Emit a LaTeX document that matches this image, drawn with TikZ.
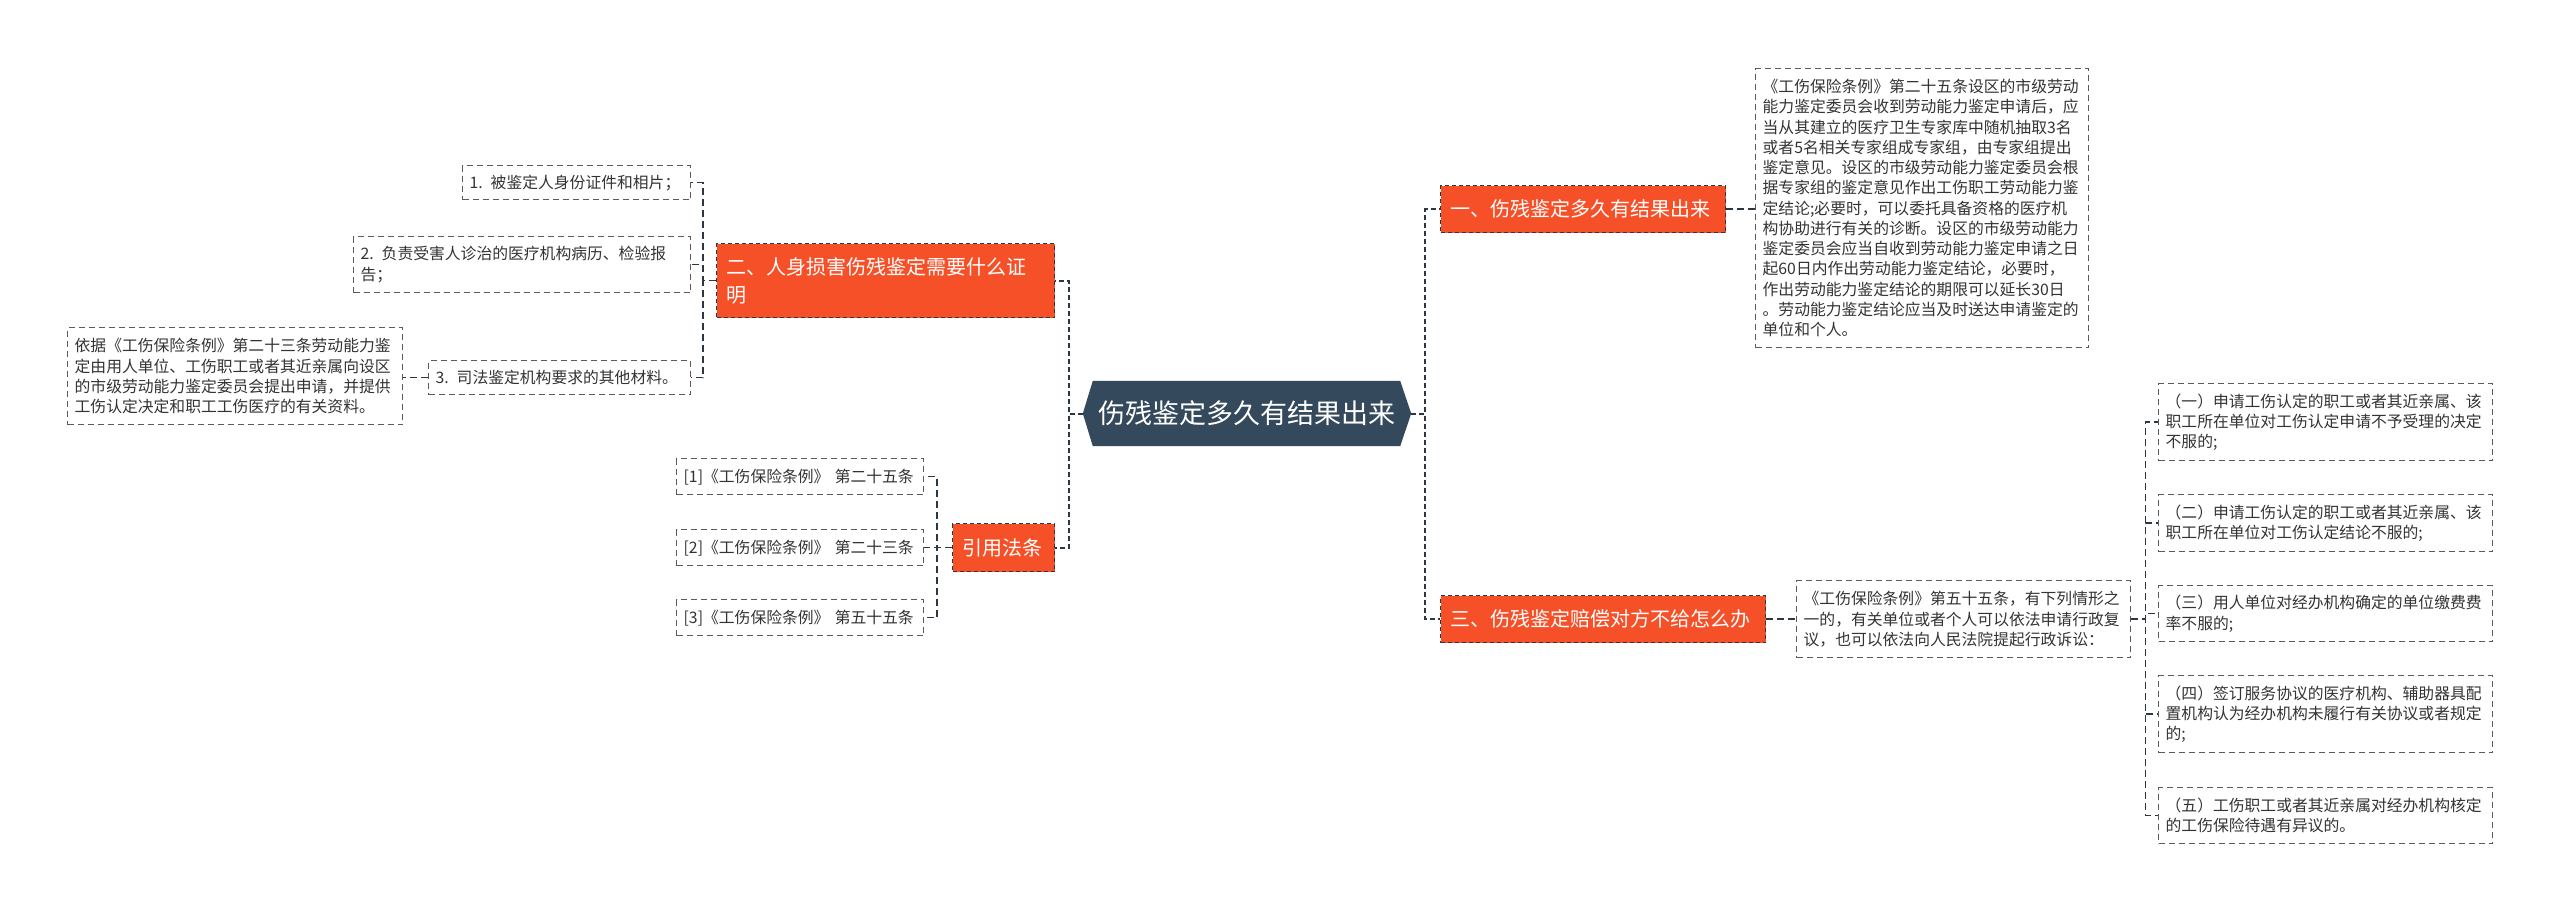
\documentclass[tikz,border=0pt]{standalone}
\usepackage{fontspec}
\setmainfont{Noto Sans CJK SC}
\usetikzlibrary{backgrounds}
\definecolor{orangeN}{RGB}{246,80,40}
\definecolor{darkN}{RGB}{53,73,92}
\definecolor{lineC}{RGB}{45,55,65}
\definecolor{boxC}{RGB}{90,90,90}
\definecolor{txtC}{RGB}{51,51,51}
\begin{document}
\begin{tikzpicture}[x=1pt,y=-1pt,
  detail/.style={draw=boxC, line width=1.3pt, dash pattern=on 6pt off 4pt, text=txtC,
    font=\fontsize{15.8}{20.25}\selectfont, align=left, inner xsep=7pt, inner ysep=0pt, anchor=north west},
  topic/.style={fill=orangeN, draw=lineC, line width=1.3pt, dash pattern=on 4pt off 3pt, text=white,
    font=\fontsize{20}{28}\selectfont, align=left, inner xsep=10pt, inner ysep=0pt, anchor=north west},
  mainnode/.style={text=white, font=\fontsize{27}{32}\selectfont, inner sep=0pt,
    minimum width=328pt, minimum height=65pt},
  link/.style={draw=lineC, line width=2pt, dash pattern=on 5pt off 3pt},
  sublink/.style={draw=lineC, line width=1.5pt, dash pattern=on 7pt off 4pt}]
\useasboundingbox (0,0) rectangle (2560,911);
\begin{scope}[on background layer]
\fill[white] (0,0) rectangle (2560,911);
\end{scope}

% center
\node[mainnode] (ctr) at (1247,413.5) {伤残鉴定多久有结果出来};
\begin{scope}[on background layer]
\fill[darkN] (ctr.west) -- ([xshift=10pt]ctr.north west) -- ([xshift=-11pt]ctr.north east) -- (ctr.east)
  -- ([xshift=-11pt]ctr.south east) -- ([xshift=10pt]ctr.south west) -- cycle;
\end{scope}

% topics
\node[topic, text width=265pt, minimum height=47pt] (N1) at (1440,185) {一、伤残鉴定多久有结果出来};
\node[topic, text width=305pt, minimum height=47pt] (N3) at (1440,595) {三、伤残鉴定赔偿对方不给怎么办};
\node[topic, text width=318pt, minimum height=74pt] (N2) at (716,243) {二、人身损害伤残鉴定需要什么证\\明};
\node[topic, text width=82pt, minimum height=48pt] (N4) at (952,523) {引用法条};

% right details
\node[detail, text width=319pt, minimum height=279pt] (R1) at (1755,68) {《工伤保险条例》第二十五条设区的市级劳动\\能力鉴定委员会收到劳动能力鉴定申请后，应\\当从其建立的医疗卫生专家库中随机抽取3名\\或者5名相关专家组成专家组，由专家组提出\\鉴定意见。设区的市级劳动能力鉴定委员会根\\据专家组的鉴定意见作出工伤职工劳动能力鉴\\定结论;必要时，可以委托具备资格的医疗机\\构协助进行有关的诊断。设区的市级劳动能力\\鉴定委员会应当自收到劳动能力鉴定申请之日\\起60日内作出劳动能力鉴定结论，必要时，\\作出劳动能力鉴定结论的期限可以延长30日\\。劳动能力鉴定结论应当及时送达申请鉴定的\\单位和个人。};
\node[detail, text width=320pt, minimum height=77pt] (D3) at (1796,580) {《工伤保险条例》第五十五条，有下列情形之\\一的，有关单位或者个人可以依法申请行政复\\议，也可以依法向人民法院提起行政诉讼：};
\node[detail, text width=320pt, minimum height=77pt] (B1) at (2158,383) {（一）申请工伤认定的职工或者其近亲属、该\\职工所在单位对工伤认定申请不予受理的决定\\不服的;};
\node[detail, text width=320pt, minimum height=57pt] (B2) at (2158,494) {（二）申请工伤认定的职工或者其近亲属、该\\职工所在单位对工伤认定结论不服的;};
\node[detail, text width=320pt, minimum height=56pt] (B3) at (2158,585) {（三）用人单位对经办机构确定的单位缴费费\\率不服的;};
\node[detail, text width=320pt, minimum height=77pt] (B4) at (2158,675) {（四）签订服务协议的医疗机构、辅助器具配\\置机构认为经办机构未履行有关协议或者规定\\的;};
\node[detail, text width=320pt, minimum height=56pt] (B5) at (2158,787) {（五）工伤职工或者其近亲属对经办机构核定\\的工伤保险待遇有异议的。};

% left details
\node[detail, text width=214pt, minimum height=34pt] (L1) at (462,165) {1. 被鉴定人身份证件和相片；};
\node[detail, text width=323pt, minimum height=56pt] (L2) at (353,236) {2. 负责受害人诊治的医疗机构病历、检验报\\告；};
\node[detail, text width=248pt, minimum height=34pt] (L3) at (428,360) {3. 司法鉴定机构要求的其他材料。};
\node[detail, text width=321pt, minimum height=97pt] (LB) at (67,327) {依据《工伤保险条例》第二十三条劳动能力鉴\\定由用人单位、工伤职工或者其近亲属向设区\\的市级劳动能力鉴定委员会提出申请，并提供\\工伤认定决定和职工工伤医疗的有关资料。};
\node[detail, text width=233pt, minimum height=36pt] (C1) at (676,458) {[1]《工伤保险条例》 第二十五条};
\node[detail, text width=233pt, minimum height=36pt] (C2) at (676,529) {[2]《工伤保险条例》 第二十三条};
\node[detail, text width=233pt, minimum height=36pt] (C3) at (676,599) {[3]《工伤保险条例》 第五十五条};

% connectors
\draw[link] (ctr.east) -- ++(14,0) |- (N1.west);
\draw[link] (ctr.east) -- ++(14,0) |- (N3.west);
\draw[link] (ctr.west) -- ++(-14,0) |- (N2.east);
\draw[link] (ctr.west) -- ++(-14,0) |- (N4.east);

\draw[sublink] (N1.east) -- (N1.east -| R1.west);
\draw[sublink] (N3.east) -- (D3.west);
\foreach \b in {B1,B2,B3,B4,B5}{\draw[sublink] (D3.east) -- ++(14,0) |- (\b.west);}
\foreach \b in {L1,L2,L3}{\draw[sublink] (N2.west) -- ++(-13,0) |- (\b.east);}
\draw[sublink] (L3.west) -- (L3.west -| LB.east);
\foreach \b in {C1,C2,C3}{\draw[sublink] (N4.west) -- ++(-15,0) |- (\b.east);}
\end{tikzpicture}
\end{document}
